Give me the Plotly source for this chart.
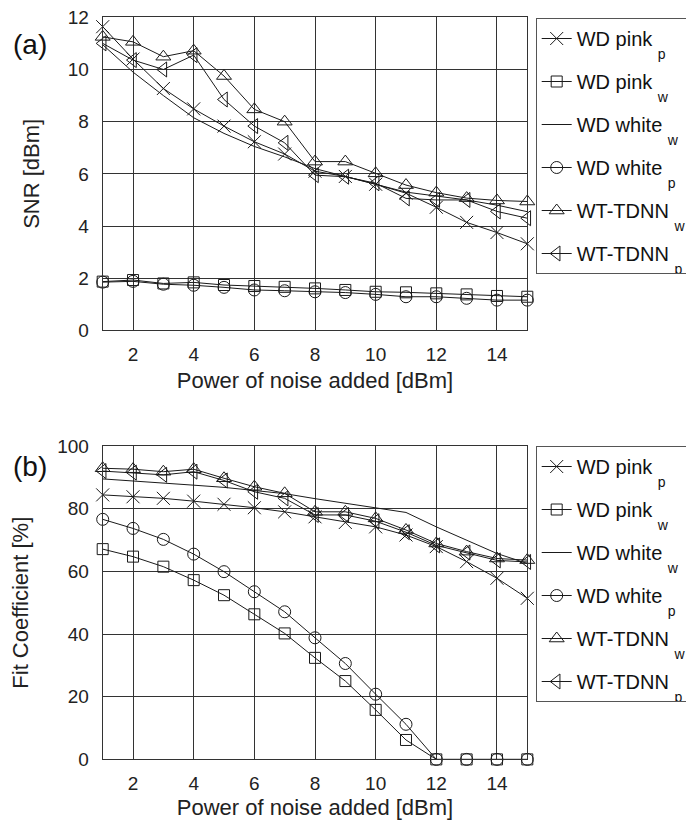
import plotly.graph_objects as go

x = list(range(1, 16))

# Panel (a): SNR [dBm]
snr_wd_pink_p = [11.64, 10.4, 9.27, 8.49, 7.83, 7.23, 6.76, 6.1, 5.9, 5.6, 5.26, 4.72, 4.14, 3.75, 3.32]
snr_wd_pink_w = [1.87, 1.93, 1.80, 1.84, 1.74, 1.70, 1.67, 1.61, 1.55, 1.48, 1.46, 1.42, 1.38, 1.32, 1.29]
snr_wd_white_w = [10.95, 9.9, 9.0, 8.15, 7.55, 7.05, 6.65, 6.2, 5.9, 5.6, 5.3, 5.15, 5.0, 4.8, 4.55]
snr_wd_white_p = [1.85, 1.88, 1.77, 1.73, 1.65, 1.55, 1.52, 1.48, 1.45, 1.38, 1.29, 1.29, 1.23, 1.16, 1.16]
snr_wt_tdnn_w = [11.25, 11.06, 10.49, 10.72, 9.75, 8.47, 8.0, 6.47, 6.47, 6.02, 5.57, 5.28, 5.07, 4.98, 4.94]
snr_wt_tdnn_p = [11.0, 10.36, 10.0, 10.55, 8.85, 7.83, 7.19, 5.95, 5.89, 5.64, 5.06, 5.0, 5.0, 4.56, 4.30]

# Panel (b): Fit Coefficient [%]
fit_wd_pink_p = [84.4, 83.8, 83.3, 82.4, 81.4, 80.3, 79.0, 77.4, 75.6, 74.2, 71.6, 67.9, 63.1, 57.8, 51.4]
fit_wd_pink_w = [67.1, 64.7, 61.5, 57.2, 52.4, 46.3, 40.2, 32.4, 25.0, 15.8, 6.2, 0, 0, 0, 0]
fit_wd_white_w = [89.5, 88.9, 88.2, 87.5, 86.8, 85.8, 84.8, 83.2, 81.8, 80.2, 78.8, 74.2, 70.0, 65.7, 62.5]
fit_wd_white_p = [76.6, 73.7, 70.2, 65.5, 59.9, 53.5, 47.1, 38.8, 30.6, 20.8, 11.2, 0, 0, 0, 0]
fit_wt_tdnn_w = [92.9, 92.6, 91.8, 92.6, 89.7, 87.0, 84.9, 79.0, 79.0, 76.9, 73.2, 68.9, 66.3, 64.1, 63.6]
fit_wt_tdnn_p = [92.0, 91.5, 90.8, 91.8, 89.0, 85.4, 83.3, 78.0, 78.0, 76.0, 72.5, 68.3, 66.0, 63.5, 63.0]

x_ticks = [2, 4, 6, 8, 10, 12, 14]
snr_ticks = [0, 2, 4, 6, 8, 10, 12]
fit_ticks = [0, 20, 40, 60, 80, 100]

SUB = '<span style="font-size:14px;baseline-shift:-13px">{}</span>&nbsp;&nbsp;&nbsp;'
names = [
    "WD pink " + SUB.format("p"),
    "WD pink " + SUB.format("w"),
    "WD white " + SUB.format("w"),
    "WD white " + SUB.format("p"),
    "WT-TDNN " + SUB.format("w"),
    "WT-TDNN " + SUB.format("p"),
]
symbols = ["x-thin-open", "square-open", None, "circle-open", "triangle-up-open", "triangle-left-open"]
sizes = [13, 11, 0, 12, 13, 13]

snr_series = [snr_wd_pink_p, snr_wd_pink_w, snr_wd_white_w, snr_wd_white_p, snr_wt_tdnn_w, snr_wt_tdnn_p]
fit_series = [fit_wd_pink_p, fit_wd_pink_w, fit_wd_white_w, fit_wd_white_p, fit_wt_tdnn_w, fit_wt_tdnn_p]

INK = "#1a1a1a"
FONT = "Liberation Sans, Arial, sans-serif"

# page body has an 8px margin: figure drawn at (8, 8)
OFF = 8
W, H = 694 - OFF, 820 - OFF


def px(p):
    return (p - OFF) / W


def py(q):
    return 1 - (q - OFF) / H


fig = go.Figure()

for panel, series, xa, ya, leg in [
    (0, snr_series, "x", "y", "legend"),
    (1, fit_series, "x2", "y2", "legend2"),
]:
    for i, ys in enumerate(series):
        sym = symbols[i]
        if sym is None:
            mode = "lines"
            marker = None
        else:
            mode = "lines+markers"
            marker = dict(symbol=sym, size=sizes[i], color=INK,
                          line=dict(color=INK, width=1))
        fig.add_trace(go.Scatter(
            x=x, y=ys, name=names[i], mode=mode,
            line=dict(color=INK, width=1),
            marker=marker,
            xaxis=xa, yaxis=ya, legend=leg,
            legendgroup=f"g{panel}{i}",
            cliponaxis=False,
        ))

axis_common = dict(
    showgrid=True, gridcolor="#333333", gridwidth=1,
    showline=True, linecolor="#333333", linewidth=1, mirror=True,
    zeroline=False, ticks="", automargin=False, ticklabeloverflow="allow",
    tickfont=dict(family=FONT, size=19, color="#222"),
    title_font=dict(family=FONT, size=22, color="#222"),
)

xdom = [px(102.7), px(527.3)]
legend_common = dict(
    xanchor="left", yanchor="top",
    bordercolor="#555", borderwidth=1, bgcolor="white",
    font=dict(family=FONT, size=20, color="#111"),
    traceorder="grouped", tracegroupgap=14, itemwidth=30,
)
fig.update_layout(
    width=W, height=H,
    margin=dict(l=0, r=0, t=0, b=0, autoexpand=False),
    paper_bgcolor="white", plot_bgcolor="white",
    font=dict(family=FONT, color="#222"),
    xaxis=dict(axis_common, domain=xdom, range=[1, 15], tickvals=x_ticks,
               anchor="y", ticklabelstandoff=7,
               title=dict(text="Power of noise added [dBm]", standoff=8)),
    yaxis=dict(axis_common, domain=[py(330.4), py(17.3)], range=[0, 12],
               tickvals=snr_ticks, anchor="x", ticklabelstandoff=9,
               title=dict(text="SNR [dBm]", standoff=22)),
    xaxis2=dict(axis_common, domain=xdom, range=[1, 15], tickvals=x_ticks,
                anchor="y2", ticklabelstandoff=7,
                title=dict(text="Power of noise added [dBm]", standoff=6)),
    yaxis2=dict(axis_common, domain=[py(759.4), py(446)], range=[0, 100],
                tickvals=fit_ticks, anchor="x2", ticklabelstandoff=9,
                title=dict(text="Fit Coefficient [%]", standoff=22)),
    legend=dict(legend_common, x=px(535.7), y=py(18)),
    legend2=dict(legend_common, x=px(535.7), y=py(446)),
    annotations=[
        dict(text="(a)", x=px(30), y=py(45), xref="paper", yref="paper",
             showarrow=False, font=dict(family=FONT, size=28, color="#111"),
             xanchor="center", yanchor="middle"),
        dict(text="(b)", x=px(30), y=py(467), xref="paper", yref="paper",
             showarrow=False, font=dict(family=FONT, size=28, color="#111"),
             xanchor="center", yanchor="middle"),
    ],
)

fig.write_html("out.html")
